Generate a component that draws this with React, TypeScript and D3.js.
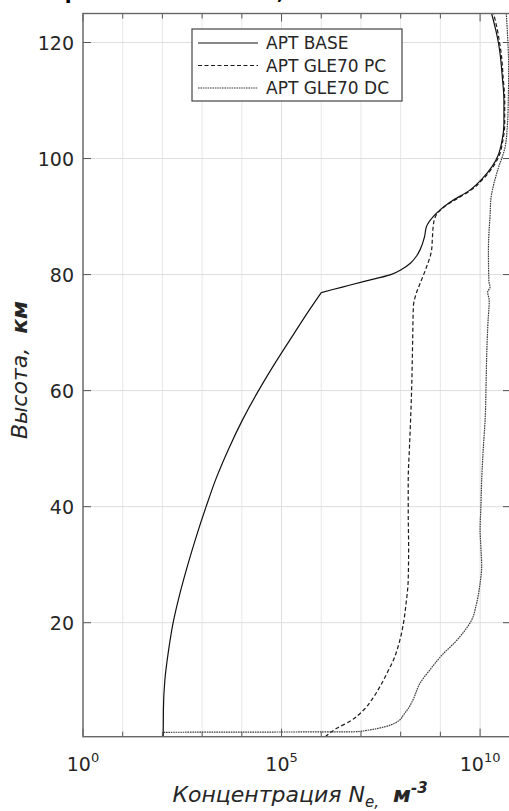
import React from "react";
import * as d3 from "d3";

// Altitude (km) and log10 of electron concentration (m^-3)
const baseAlt = [0.35, 5, 10, 15, 20, 25, 30, 35, 40, 45, 50, 55, 60, 65, 70, 74, 76.9, 77.85, 78.8, 80.0, 81.0, 82.0, 83.2, 84.3, 86.5, 88.3, 90.0, 91.2, 92.5, 94.6, 96.5, 98.6, 100.5, 103, 106, 110, 114, 118.2, 120, 122, 125];
const baseLogNe = [2.02, 2.025, 2.06, 2.15, 2.27, 2.44, 2.64, 2.86, 3.1, 3.36, 3.67, 4.02, 4.42, 4.86, 5.33, 5.71, 6.0, 6.53, 7.06, 7.75, 8.05, 8.25, 8.4, 8.49, 8.6, 8.65, 8.82, 9.0, 9.25, 9.75, 10.05, 10.3, 10.45, 10.55, 10.6, 10.6, 10.56, 10.5, 10.46, 10.4, 10.29];
const baseBreakAlt = 76.9; // sharp bend of the BASE profile

const pcAlt = [0.35, 1.8, 3.0, 4.9, 7.0, 9.0, 11.5, 13.6, 16.5, 19.9, 23, 27.4, 33, 38.9, 44.6, 50, 55, 61.3, 68, 74.5, 76.5, 78.5, 81.1, 84.3, 86.5, 88.9, 90.6, 92.0, 93.2, 94.6, 96.5, 98.6, 100.5, 103, 106, 110, 114, 118.2, 120, 122, 125];
const pcLogNe = [6.1, 6.39, 6.72, 7.06, 7.3, 7.48, 7.67, 7.82, 7.96, 8.07, 8.13, 8.19, 8.2, 8.19, 8.19, 8.22, 8.25, 8.28, 8.3, 8.32, 8.38, 8.49, 8.64, 8.78, 8.8, 8.83, 8.93, 9.16, 9.45, 9.78, 10.08, 10.33, 10.48, 10.57, 10.62, 10.62, 10.58, 10.53, 10.49, 10.44, 10.34];

const dcAlt = [0.35, 1.1, 1.2, 1.45, 2.1, 3.2, 4.1, 5.3, 6.7, 9.6, 12, 14.7, 16.5, 18.7, 20.5, 23, 26.8, 29.7, 33, 36, 40, 44.6, 50, 55.5, 61, 67, 72, 75.5, 77, 77.8, 79, 84.3, 88, 90, 92.9, 95.2, 97, 98.6, 100.5, 102, 105, 110, 116, 120, 125];
const dcLogNe = [2.02, 2.02, 6.85, 7.15, 7.62, 7.97, 8.07, 8.2, 8.31, 8.49, 8.75, 9.08, 9.35, 9.62, 9.79, 9.9, 10.0, 10.04, 10.02, 10.0, 10.02, 10.04, 10.08, 10.13, 10.15, 10.17, 10.2, 10.23, 10.19, 10.25, 10.22, 10.21, 10.23, 10.25, 10.27, 10.33, 10.4, 10.47, 10.57, 10.63, 10.68, 10.71, 10.72, 10.7, 10.66];

const seriesNames = ["APT BASE", "APT GLE70 PC", "APT GLE70 DC"];
const yTicks = [20, 40, 60, 80, 100, 120];
const xMajorTicks = [0, 5, 10];
const xMinorTicks = [1, 2, 3, 4, 6, 7, 8, 9];
const xDomain = [1, 6e10];
const yDomain = [0.35, 125];

const W = 509;
const H = 811;
const L = 83, R = 511, T = 13.5, B = 736.7;
const FONT = "'DejaVu Sans', sans-serif";
const TXT = "#262626";

export default function App() {
  const x = d3.scaleLog().domain(xDomain).range([L, R]);
  const y = d3.scaleLinear().domain(yDomain).range([B, T]);

  const mk = (alt: number[], lg: number[]) => alt.map((a, i) => [Math.pow(10, lg[i]), a] as [number, number]);
  const line = d3
    .line<[number, number]>()
    .x((d) => x(d[0]))
    .y((d) => y(d[1]))
    .curve(d3.curveMonotoneY);

  const baseData = mk(baseAlt, baseLogNe);
  const basePath =
    (line(baseData.filter((d) => d[1] <= baseBreakAlt)) || "") +
    (line(baseData.filter((d) => d[1] >= baseBreakAlt)) || "");

  const series = [
    { name: seriesNames[0], path: basePath, dash: "none", color: "#111", w: 1.2 },
    { name: seriesNames[1], path: line(mk(pcAlt, pcLogNe)) || "", dash: "4,2.5", color: "#1a1a1a", w: 1.2 },
    { name: seriesNames[2], path: line(mk(dcAlt, dcLogNe)) || "", dash: "1.6,0.8", color: "#3a3a3a", w: 1.2 },
  ];

  return (
    <svg
      width={W}
      height={H}
      style={{ position: "absolute", left: 0, top: 0, background: "#fff" }}
      fontFamily={FONT}
    >
      <defs>
        <clipPath id="plot">
          <rect x={L} y={T} width={R - L} height={B - T} />
        </clipPath>
      </defs>
      <rect x={0} y={0} width={W} height={H} fill="#fff" />

      {/* title, cut off at the top edge as in the reference */}
      <text x={48} y={-1} fontSize={20} fontWeight="bold" fill="#000">
        Протонное событие, GLE70
      </text>

      {/* grid */}
      {xMinorTicks.map((e) => (
        <line key={"gm" + e} x1={x(Math.pow(10, e))} x2={x(Math.pow(10, e))} y1={T} y2={B} stroke="#cfcfcf" strokeWidth={1} strokeDasharray="1,1" />
      ))}
      {xMajorTicks.map((e) => (
        <line key={"gM" + e} x1={x(Math.pow(10, e))} x2={x(Math.pow(10, e))} y1={T} y2={B} stroke="#dedede" strokeWidth={1} />
      ))}
      {yTicks.map((t) => (
        <line key={"gy" + t} x1={L} x2={R} y1={y(t)} y2={y(t)} stroke="#dedede" strokeWidth={1} />
      ))}

      {/* data */}
      <g clipPath="url(#plot)">
        {series.map((s) => (
          <path key={s.name} d={s.path} fill="none" stroke={s.color} strokeWidth={s.w} strokeDasharray={s.dash} />
        ))}
      </g>

      {/* ticks */}
      {yTicks.map((t) => (
        <g key={"ty" + t}>
          <line x1={L} x2={L + 8} y1={y(t)} y2={y(t)} stroke="#555" strokeWidth={1} />
          <line x1={R} x2={R - 8} y1={y(t)} y2={y(t)} stroke="#555" strokeWidth={1} />
        </g>
      ))}
      {xMinorTicks.map((e) => (
        <g key={"tm" + e}>
          <line x1={x(Math.pow(10, e))} x2={x(Math.pow(10, e))} y1={B} y2={B - 5} stroke="#555" strokeWidth={1} />
          <line x1={x(Math.pow(10, e))} x2={x(Math.pow(10, e))} y1={T} y2={T + 5} stroke="#555" strokeWidth={1} />
        </g>
      ))}
      {xMajorTicks.map((e) => (
        <g key={"tM" + e}>
          <line x1={x(Math.pow(10, e))} x2={x(Math.pow(10, e))} y1={B} y2={B - 8} stroke="#555" strokeWidth={1} />
          <line x1={x(Math.pow(10, e))} x2={x(Math.pow(10, e))} y1={T} y2={T + 8} stroke="#555" strokeWidth={1} />
        </g>
      ))}

      {/* box */}
      <rect x={L} y={T} width={R - L} height={B - T} fill="none" stroke="#666" strokeWidth={1.4} />

      {/* tick labels */}
      {yTicks.map((t) => (
        <text key={"ly" + t} x={74} y={y(t) + 7} textAnchor="end" fontSize={19} fill={TXT}>
          {t}
        </text>
      ))}
      {xMajorTicks.map((e) => (
        <text key={"lx" + e} x={x(Math.pow(10, e))} y={771} textAnchor="middle" fontSize={19} fill={TXT}>
          10
          <tspan dy={-9} fontSize={13}>
            {e}
          </tspan>
        </text>
      ))}

      {/* axis labels */}
      <text x={300} y={802} textAnchor="middle" fontSize={22} fill={TXT} fontStyle="italic" xmlSpace="preserve">
        Концентрация N
        <tspan dy={5} fontSize={15}>e,</tspan>
        <tspan dy={-5}>{"  "}</tspan>
        <tspan fontWeight="bold">м</tspan>
        <tspan dy={-9} fontSize={15} fontWeight="bold">-3</tspan>
      </text>
      <text transform="translate(27,370) rotate(-90)" textAnchor="middle" fontSize={22} fill={TXT} fontStyle="italic" xmlSpace="preserve">
        {"Высота,  "}
        <tspan fontWeight="bold">км</tspan>
      </text>

      {/* legend */}
      <rect x={192} y={29} width={210} height={72} fill="#fff" stroke="#444" strokeWidth={1.2} />
      {series.map((s, i) => {
        const cy = 43 + i * 22.5;
        return (
          <g key={"lg" + i}>
            <line x1={198} x2={258} y1={cy} y2={cy} stroke={s.color} strokeWidth={s.w} strokeDasharray={s.dash} />
            <text x={266} y={cy + 6} fontSize={17} fill={TXT}>
              {s.name}
            </text>
          </g>
        );
      })}
    </svg>
  );
}
